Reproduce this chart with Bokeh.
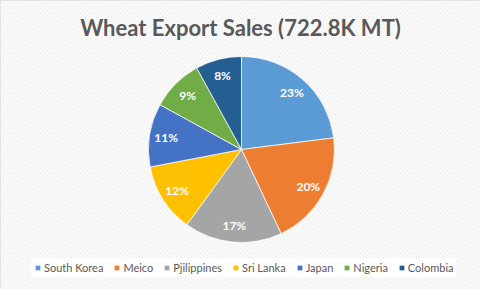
import math
from bokeh.plotting import figure
from bokeh.models import ColumnDataSource, Range1d, Legend, LegendItem
from bokeh.core.properties import value
from bokeh.embed import file_html
from bokeh.resources import INLINE

# ---- data ----
countries = ["South Korea", "Meico", "Pjilippines", "Sri Lanka", "Japan", "Nigeria", "Colombia"]
shares = [23, 20, 17, 12, 11, 9, 8]
colors = ["#5B9BD5", "#ED7D31", "#A5A5A5", "#FFC000", "#4472C4", "#70AD47", "#255E91"]
title_text = "Wheat Export Sales (722.8K MT)"

W, H = 480, 289
cx, cy, r = 241, H - 149, 93

total = float(sum(shares))
starts, ends, lx, ly, labels = [], [], [], [], []
cum = 0.0
for s in shares:
    a0 = math.pi / 2 - 2 * math.pi * cum / total
    cum += s
    a1 = math.pi / 2 - 2 * math.pi * cum / total
    starts.append(a0)
    ends.append(a1)
    mid = (a0 + a1) / 2
    lx.append(cx + 0.82 * r * math.cos(mid))
    ly.append(cy + 0.82 * r * math.sin(mid))
    labels.append(f"{round(100 * s / total)}%")

src = ColumnDataSource(dict(country=countries, start=starts, end=ends,
                            color=colors, lx=lx, ly=ly, label=labels))

p = figure(width=W, height=H, output_backend="svg", toolbar_location=None,
           x_range=Range1d(0, W), y_range=Range1d(0, H), min_border=0)
p.axis.visible = False
p.grid.visible = False
p.background_fill_color = "white"
p.border_fill_color = "white"
p.outline_line_color = "#d9d9d9"
p.outline_line_width = 1

# hatched background
p.quad(left=0, right=W, bottom=0, top=H, fill_color="white", line_color=None,
       hatch_pattern="/", hatch_color="#ececec", hatch_scale=5, hatch_weight=1)

wedges = p.wedge(x=cx, y=cy, radius=r, start_angle="start", end_angle="end",
                 direction="clock", fill_color="color", line_color="white",
                 line_width=0.75, source=src)

p.text(x="lx", y="ly", text="label", source=src, text_color="white",
       text_font=value("Lato"), text_font_style="bold", text_font_size="12px",
       text_align="center", text_baseline="middle")

p.text(x=[W / 2], y=[H - 27], text=[title_text], text_color="#595959",
       text_font=value("Lato"), text_font_style="bold", text_font_size="22px",
       text_align="center", text_baseline="middle")

items = [LegendItem(label=c, renderers=[wedges], index=i) for i, c in enumerate(countries)]
legend = Legend(items=items, orientation="horizontal", location=(31, 12),
                glyph_width=7, glyph_height=7, label_standoff=3, spacing=10,
                padding=3, margin=0, label_text_font="Lato",
                label_text_font_size="11px", label_text_color="#595959",
                background_fill_color="white", background_fill_alpha=0.9,
                border_line_alpha=0, label_height=11)
p.add_layout(legend, "center")

open("out.html", "w").write(file_html(p, INLINE))
